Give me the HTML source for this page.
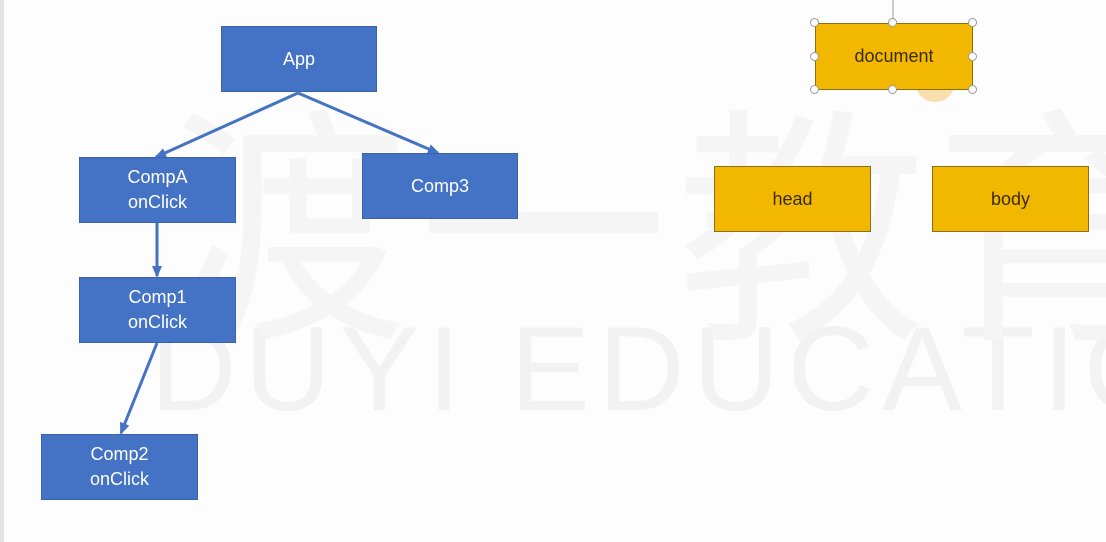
<!DOCTYPE html>
<html><head><meta charset="utf-8"><style>
html,body{margin:0;padding:0;width:1106px;height:542px;overflow:hidden;background:#fdfdfd;font-family:"Liberation Sans","Noto Sans CJK SC",sans-serif;}
.b{position:absolute;box-sizing:border-box;display:flex;align-items:center;justify-content:center;text-align:center;font-size:18px;line-height:25px;}
.blue{background:#4472c4;border:1px solid #3a62aa;color:#fff;}
.y{background:#f2b800;border:1px solid #8a6e1a;color:#3a2a10;}
.wm{position:absolute;color:#f2f2f2;font-size:120px;letter-spacing:8px;white-space:nowrap;}
.h{position:absolute;width:9px;height:9px;border:1.5px solid #999;border-radius:50%;background:#fff;box-sizing:border-box;}
#wrap{position:absolute;left:0;top:0;width:1106px;height:542px;overflow:hidden;}
</style></head><body>
<div id="wrap">
<div style="position:absolute;left:0;top:0;width:4px;height:542px;background:#e4e4e4"></div>
<div class="wm" style="left:150px;top:300px;">DUYI EDUCATION</div>
<div class="wm" style="left:160px;top:30px;font-size:250px;font-family:'Noto Sans CJK SC',sans-serif;color:#f5f5f5">渡一教育</div>
</div>
<svg style="position:absolute;left:0;top:0" width="1106" height="542">
<defs><marker id="a" markerWidth="12" markerHeight="10" refX="10" refY="5" orient="auto" markerUnits="userSpaceOnUse"><path d="M0,0L12,5L0,10z" fill="#4472c4"/></marker></defs>
<g stroke="#4472c4" stroke-width="3" fill="none">
<line x1="298" y1="93" x2="156" y2="157" marker-end="url(#a)"/>
<line x1="298" y1="93" x2="438" y2="153" marker-end="url(#a)"/>
<line x1="157" y1="223" x2="157" y2="276" marker-end="url(#a)"/>
<line x1="157" y1="343" x2="121" y2="433" marker-end="url(#a)"/>
</g>
<line x1="893" y1="0" x2="893" y2="23" stroke="#999" stroke-width="1"/>
<circle cx="935" cy="82" r="20" fill="#f5c060" opacity="0.5"/>
</svg>
<div class="b blue" style="left:221px;top:26px;width:156px;height:66px;">App</div>
<div class="b blue" style="left:79px;top:157px;width:157px;height:66px;">CompA<br>onClick</div>
<div class="b blue" style="left:362px;top:153px;width:156px;height:66px;">Comp3</div>
<div class="b blue" style="left:79px;top:277px;width:157px;height:66px;">Comp1<br>onClick</div>
<div class="b blue" style="left:41px;top:434px;width:157px;height:66px;">Comp2<br>onClick</div>
<div class="b y" style="left:815px;top:23px;width:158px;height:67px;">document</div>
<div class="b y" style="left:714px;top:166px;width:157px;height:66px;">head</div>
<div class="b y" style="left:932px;top:166px;width:157px;height:66px;">body</div>
<div class="h" style="left:810px;top:18px"></div><div class="h" style="left:888px;top:18px"></div><div class="h" style="left:968px;top:18px"></div>
<div class="h" style="left:810px;top:52px"></div><div class="h" style="left:968px;top:52px"></div>
<div class="h" style="left:810px;top:85px"></div><div class="h" style="left:888px;top:85px"></div><div class="h" style="left:968px;top:85px"></div>
</body></html>
